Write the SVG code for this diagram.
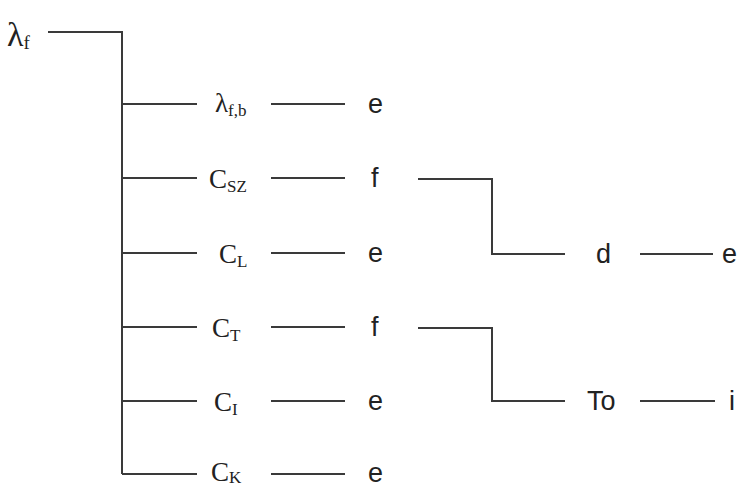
<svg xmlns="http://www.w3.org/2000/svg" width="739" height="487" viewBox="0 0 739 487">
<style>
.ln{stroke:#3a3a3a;stroke-width:2;fill:none}
.sf{font-family:"Liberation Serif","Times New Roman",serif;fill:#222}
.ss{font-family:"Liberation Sans",Arial,sans-serif;fill:#222;font-size:27px}
.m{font-size:27px}
.sub{font-size:17px}
</style>
<rect width="739" height="487" fill="#fff"/>
<g id="connectors">
<path class="ln" d="M48,32 H122 V474"/>
<path class="ln" d="M122,104 H197 M122,178 H197 M122,253 H197 M122,327 H197 M122,401 H197 M122,474 H197"/>
<path class="ln" d="M271,104 H345 M271,178 H345 M271,253 H345 M271,327 H345 M271,401 H345 M271,474 H345"/>
<path class="ln" d="M418,179 H492 V254 H565 M640,254 H713"/>
<path class="ln" d="M418,328 H492 V401 H565 M640,401 H715"/>
</g>
<g id="lambda_f"><text class="sf" x="7" y="46" font-size="34">λ<tspan font-size="19" dy="3">f</tspan></text></g>
<g id="lambda_fb"><text class="sf m" x="215" y="112">λ<tspan class="sub" dy="4">f,b</tspan></text></g>
<g id="C_SZ"><text class="sf m" x="209" y="188">C<tspan class="sub" dy="4">SZ</tspan></text></g>
<g id="C_L"><text class="sf m" x="219" y="263">C<tspan class="sub" dy="4">L</tspan></text></g>
<g id="C_T"><text class="sf m" x="212" y="337">C<tspan class="sub" dy="4">T</tspan></text></g>
<g id="C_I"><text class="sf m" x="214" y="411">C<tspan class="sub" dy="4">I</tspan></text></g>
<g id="C_K"><text class="sf m" x="211" y="481">C<tspan class="sub" dy="2">K</tspan></text></g>
<g id="e1"><text class="ss" x="368" y="113">e</text></g>
<g id="f1"><text class="ss" x="371" y="187">f</text></g>
<g id="e2"><text class="ss" x="368" y="262">e</text></g>
<g id="f2"><text class="ss" x="371" y="336">f</text></g>
<g id="e3"><text class="ss" x="368" y="410">e</text></g>
<g id="e4"><text class="ss" x="368" y="482">e</text></g>
<g id="d"><text class="ss" x="596" y="263">d</text></g>
<g id="e5"><text class="ss" x="722" y="263">e</text></g>
<g id="To"><text class="ss" x="587" y="410">To</text></g>
<g id="i"><text class="ss" x="729" y="410">i</text></g>
</svg>
